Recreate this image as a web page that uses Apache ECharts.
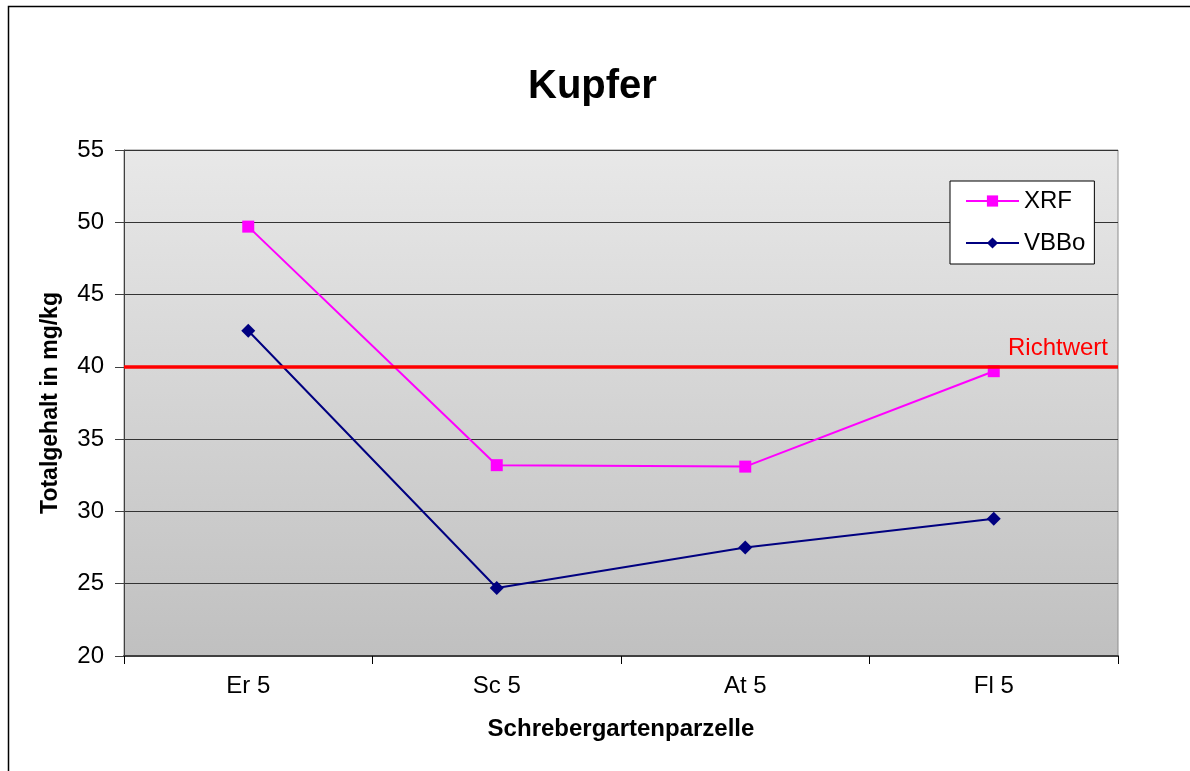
<!DOCTYPE html>
<html>
<head>
<meta charset="utf-8">
<script src="https://cdn.jsdelivr.net/npm/echarts@6/dist/echarts.min.js"></script>
<style>
  html, body { margin: 0; padding: 0; background: #fff; }
  #chart { width: 1190px; height: 771px; }
</style>
</head>
<body>
<div id="chart"></div>
<script>
// Copper content per allotment plot, two measurement methods
const categories = ['Er 5', 'Sc 5', 'At 5', 'Fl 5'];
const xrfValues = [49.7, 33.2, 33.1, 39.7];
const vbboValues = [42.5, 24.7, 27.5, 29.5];
const guideValue = 40;
const yTicks = { min: 20, max: 55, interval: 5 };

const FONT = '"Liberation Sans", Arial, sans-serif';

const chart = echarts.init(document.getElementById('chart'), null, { renderer: 'canvas' });

chart.setOption({
  animation: false,
  backgroundColor: '#ffffff',
  textStyle: { fontFamily: FONT },
  graphic: [{
    type: 'rect',
    silent: true,
    z: -10,
    shape: { x: 8.5, y: 6.5, width: 1300, height: 900 },
    style: { fill: 'none', stroke: '#000000', lineWidth: 1.5 }
  }],
  title: {
    text: 'Kupfer',
    left: 523,
    top: 62,
    textStyle: { fontFamily: FONT, fontSize: 40, fontWeight: 'bold', color: '#000' }
  },
  legend: {
    orient: 'vertical',
    left: 950,
    top: 181,
    padding: [8, 9, 9, 15],
    itemGap: 18,
    itemWidth: 53,
    itemHeight: 14,
    backgroundColor: '#ffffff',
    borderColor: '#000000',
    borderWidth: 1,
    borderRadius: 0,
    textStyle: { fontFamily: FONT, fontSize: 24, color: '#000' },
    data: ['XRF', 'VBBo']
  },
  grid: {
    left: 124,
    right: 72,
    top: 150,
    bottom: 115,
    show: true,
    borderColor: '#8c8c8c',
    borderWidth: 1,
    backgroundColor: {
      type: 'linear', x: 0, y: 0, x2: 0, y2: 1,
      colorStops: [
        { offset: 0, color: '#e8e8e8' },
        { offset: 1, color: '#c0c0c0' }
      ]
    }
  },
  xAxis: {
    type: 'category',
    data: categories,
    boundaryGap: true,
    name: 'Schrebergartenparzelle',
    nameLocation: 'middle',
    nameGap: 61,
    nameTextStyle: { fontFamily: FONT, fontSize: 24, fontWeight: 'bold', color: '#000' },
    axisLine: { lineStyle: { color: '#404040', width: 2 } },
    axisTick: { show: true, length: 8, lineStyle: { color: '#000', width: 1 } },
    axisLabel: { fontFamily: FONT, fontSize: 24, color: '#000', margin: 18 },
    splitLine: { show: false }
  },
  yAxis: {
    type: 'value',
    min: yTicks.min,
    max: yTicks.max,
    interval: yTicks.interval,
    name: 'Totalgehalt in mg/kg',
    nameLocation: 'middle',
    nameGap: 62,
    nameRotate: 90,
    nameTextStyle: { fontFamily: FONT, fontSize: 23, fontWeight: 'bold', color: '#000' },
    axisLine: { show: true, lineStyle: { color: '#404040', width: 1 } },
    axisTick: { show: true, length: 9, lineStyle: { color: '#404040', width: 1 } },
    axisLabel: { fontFamily: FONT, fontSize: 24, color: '#000', margin: 20 },
    splitLine: { show: true, lineStyle: { color: '#333333', width: 1 } }
  },
  series: [
    {
      name: 'XRF',
      type: 'line',
      data: xrfValues,
      symbol: 'rect',
      symbolSize: 12,
      color: '#ff00ff',
      lineStyle: { color: '#ff00ff', width: 2 },
      itemStyle: { color: '#ff00ff' },
      z: 3,
      markLine: {
        silent: true,
        symbol: ['none', 'none'],
        lineStyle: { color: '#ff0000', width: 3.5, type: 'solid' },
        label: {
          show: true,
          position: 'insideEndTop',
          formatter: 'Richtwert',
          color: '#ff0000',
          fontFamily: FONT,
          fontSize: 24,
          distance: [10, 6]
        },
        data: [{ yAxis: guideValue }]
      }
    },
    {
      name: 'VBBo',
      type: 'line',
      data: vbboValues,
      symbol: 'diamond',
      symbolSize: 14,
      color: '#000080',
      lineStyle: { color: '#000080', width: 2 },
      itemStyle: { color: '#000080' },
      z: 3
    }
  ]
});
</script>
</body>
</html>
